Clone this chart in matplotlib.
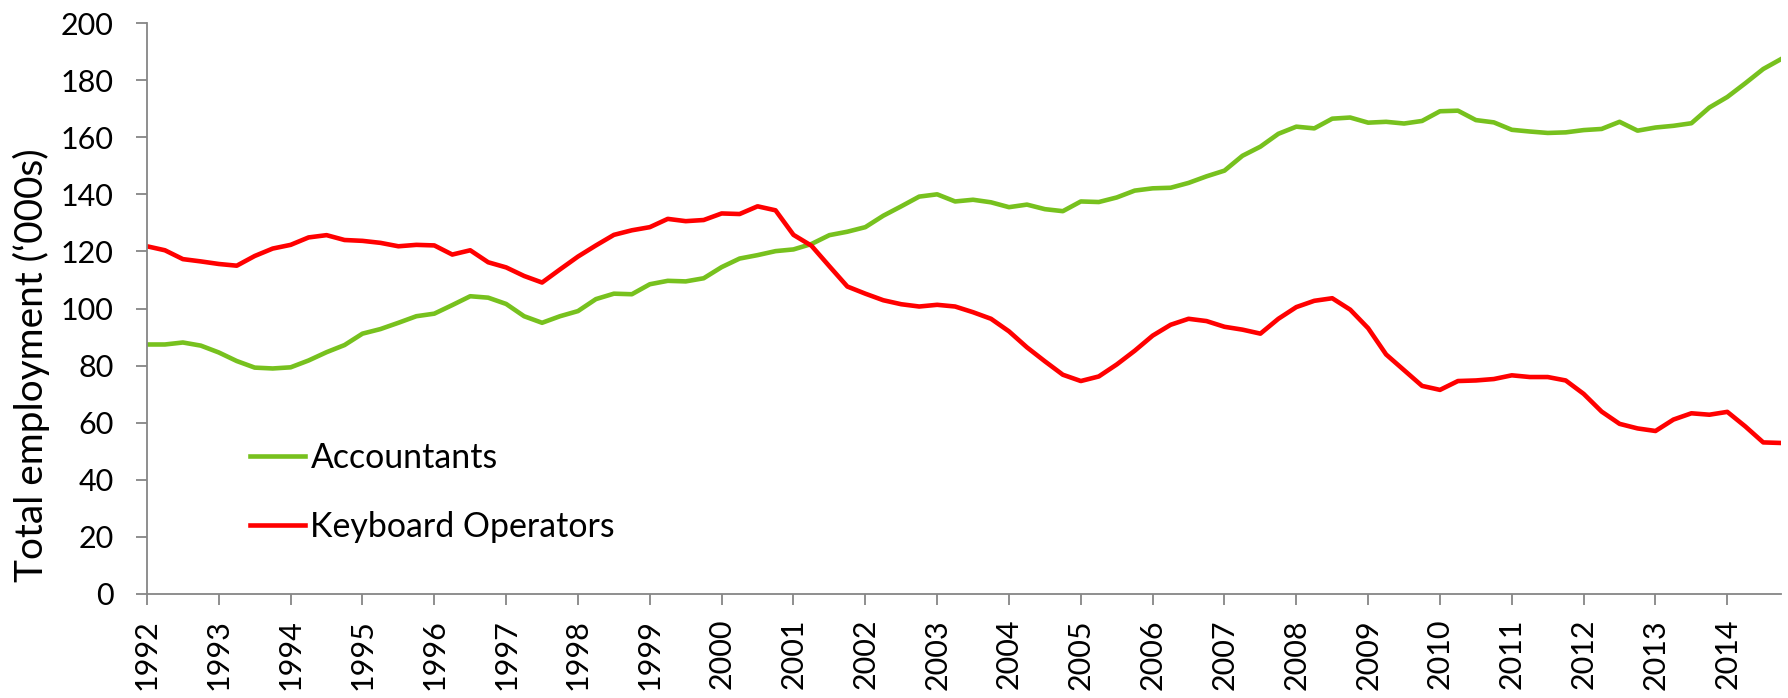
import numpy as np
import matplotlib
matplotlib.use("Agg")
import matplotlib.pyplot as plt

plt.rcParams['font.family'] = ['Lato', 'DejaVu Sans']

# quarterly values, 1992 Q1 .. 2014 Q4
start_year = 1992
accountants = [
    87.4, 87.4, 88.1, 87.0, 84.6, 81.6, 79.3, 79.0,
    79.4, 81.8, 84.7, 87.2, 91.2, 92.8, 95.0, 97.3,
    98.2, 101.2, 104.3, 103.8, 101.6, 97.3, 95.0, 97.3,
    99.1, 103.3, 105.2, 105.0, 108.5, 109.7, 109.5, 110.6,
    114.5, 117.5, 118.7, 120.1, 120.7, 122.6, 125.7, 126.9,
    128.5, 132.5, 135.8, 139.2, 140.0, 137.5, 138.1, 137.2,
    135.5, 136.4, 134.8, 134.1, 137.5, 137.3, 138.9, 141.3,
    142.1, 142.3, 144.0, 146.3, 148.3, 153.5, 156.7, 161.2,
    163.7, 163.1, 166.5, 166.9, 165.1, 165.4, 164.8, 165.7,
    169.1, 169.3, 166.0, 165.2, 162.6, 162.0, 161.5, 161.7,
    162.5, 162.9, 165.4, 162.3, 163.4, 164.0, 164.9, 170.4,
    174.1, 178.9, 183.9, 187.4,
]
keyboard_operators = [
    121.8, 120.4, 117.3, 116.5, 115.6, 115.0, 118.4, 121.0,
    122.3, 124.9, 125.7, 124.0, 123.7, 123.0, 121.8, 122.3,
    122.1, 118.9, 120.4, 116.2, 114.4, 111.4, 109.1, 113.7,
    118.2, 122.1, 125.8, 127.4, 128.5, 131.4, 130.6, 131.0,
    133.3, 133.1, 135.8, 134.4, 125.8, 122.0, 114.8, 107.7,
    105.2, 102.9, 101.5, 100.7, 101.3, 100.7, 98.7, 96.4,
    92.0, 86.4, 81.5, 76.8, 74.6, 76.2, 80.4, 85.2,
    90.5, 94.3, 96.4, 95.6, 93.6, 92.6, 91.2, 96.4,
    100.5, 102.7, 103.6, 99.6, 93.1, 83.9, 78.4, 72.9,
    71.5, 74.6, 74.8, 75.3, 76.6, 76.0, 76.0, 74.8,
    70.1, 63.9, 59.6, 58.0, 57.1, 61.1, 63.3, 62.8,
    63.8, 58.7, 53.1, 52.9,
]
years = list(range(1992, 2015))
ylabel = 'Total employment (\u2018000s)'

x = start_year + np.arange(len(accountants)) / 4.0

fig = plt.figure(figsize=(17.88, 6.98), dpi=100)
ax = fig.add_axes([0.0822, 0.149, 0.914, 0.818])
renderer = fig.canvas.get_renderer()


def fit_size(text, width_px, size=20):
    # font size (pt) that makes `text` about width_px wide
    t = fig.text(0, 0, text, fontsize=size)
    w = t.get_window_extent(renderer).width
    t.remove()
    return size * width_px / w


tick_size = fit_size('200', 53)
legend_size = fit_size('Accountants', 187)
label_size = fit_size(ylabel, 434)

ax.plot(x, accountants, color='#77C11E', lw=3.3, label='Accountants', solid_joinstyle='round')
ax.plot(x, keyboard_operators, color='#FF0000', lw=3.3, label='Keyboard Operators', solid_joinstyle='round')

ax.set_xlim(x[0], x[-1])
ax.set_ylim(0, 200)
ax.set_yticks(range(0, 201, 20))
ax.set_xticks(years)
ax.set_xticklabels([str(y) for y in years], rotation=90)

grey = '#868686'
for s in ['top', 'right']:
    ax.spines[s].set_visible(False)
for s in ['left', 'bottom']:
    ax.spines[s].set_color(grey)
    ax.spines[s].set_linewidth(1.3)
ax.tick_params(axis='both', colors=grey, width=1.3, length=8, labelcolor='black', labelsize=tick_size)
ax.tick_params(axis='y', pad=16)
ax.tick_params(axis='x', pad=10)

ax.set_ylabel(ylabel, fontsize=label_size)
ax.yaxis.set_label_coords(-0.0594, 0.40)

fpx = legend_size * 100 / 72
ax.legend(loc='upper left', bbox_to_anchor=(0.055, 0.29), frameon=False, fontsize=legend_size,
          handlelength=55 / fpx, handletextpad=5 / fpx, labelspacing=1.08, borderaxespad=0)

fig.savefig('out.png', dpi=100)
